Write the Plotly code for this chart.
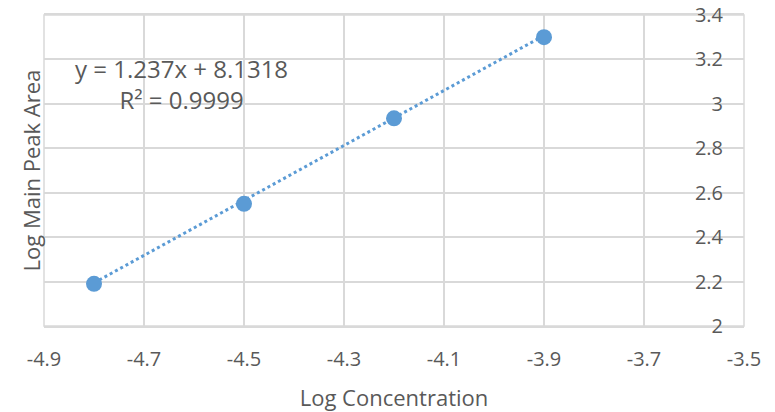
import plotly.graph_objects as go

log_conc = [-4.8, -4.5, -4.2, -3.9]
log_area = [2.19, 2.55, 2.935, 3.30]
slope = 1.237
intercept = 8.1318
r2_text = "0.9999"

x_ticks = [-4.9, -4.7, -4.5, -4.3, -4.1, -3.9, -3.7, -3.5]
y_ticks = [2, 2.2, 2.4, 2.6, 2.8, 3, 3.2, 3.4]

blue = "#5B9BD5"
grey_text = "#595959"
grid = "#D9D9D9"
font = "Open Sans"

trend_x = [log_conc[0], log_conc[-1]]
trend_y = [slope * v + intercept for v in trend_x]

fig = go.Figure()
fig.add_trace(go.Scatter(x=trend_x, y=trend_y, mode="lines",
                         line=dict(color=blue, width=3, dash="dot"),
                         hoverinfo="skip", showlegend=False))
fig.add_trace(go.Scatter(x=log_conc, y=log_area, mode="markers",
                         marker=dict(color=blue, size=16),
                         showlegend=False))

fig.add_annotation(x=-4.626, y=3.089, xref="x", yref="y",
                   text=f"y = {slope}x + {intercept}<br>R² = {r2_text}",
                   showarrow=False, align="center",
                   font=dict(family=font, size=24, color=grey_text))

fig.update_layout(
    width=775, height=412,
    margin=dict(l=44, r=31, t=15, b=86, autoexpand=False),
    paper_bgcolor="white", plot_bgcolor="white",
    font=dict(family=font, color=grey_text),
    xaxis=dict(range=[-4.9, -3.5], tickvals=x_ticks,
               ticktext=[f"{v:g}" for v in x_ticks],
               showgrid=True, gridcolor=grid, gridwidth=1.5,
               showline=True, linecolor=grid, linewidth=1.5, mirror=True,
               zeroline=False, ticks="", ticklabelstandoff=14,
               automargin=False,
               tickfont=dict(family=font, size=20, color=grey_text)),
    yaxis=dict(range=[2, 3.4], tickvals=y_ticks,
               ticktext=[f"{v:g}" for v in y_ticks],
               side="left", anchor="x", ticklabelposition="outside",
               ticklabelstandoff=-680,
               showgrid=True, gridcolor=grid, gridwidth=1.5,
               showline=False, zeroline=False, ticks="",
               automargin=False,
               tickfont=dict(family=font, size=20, color=grey_text)),
)
fig.update_xaxes(title=dict(text="Log Concentration", standoff=20,
                            font=dict(family=font, size=22, color=grey_text)))
fig.add_shape(type="rect", xref="paper", yref="paper", x0=0, x1=1, y0=0, y1=1,
              line=dict(color=grid, width=1.5), layer="below")
fig.add_annotation(xref="paper", yref="paper", x=-0.0186, y=0.5,
                   text="Log Main Peak Area", textangle=-90, showarrow=False,
                   xanchor="center", yanchor="middle",
                   font=dict(family=font, size=22, color=grey_text))

fig.write_html("out.html")
